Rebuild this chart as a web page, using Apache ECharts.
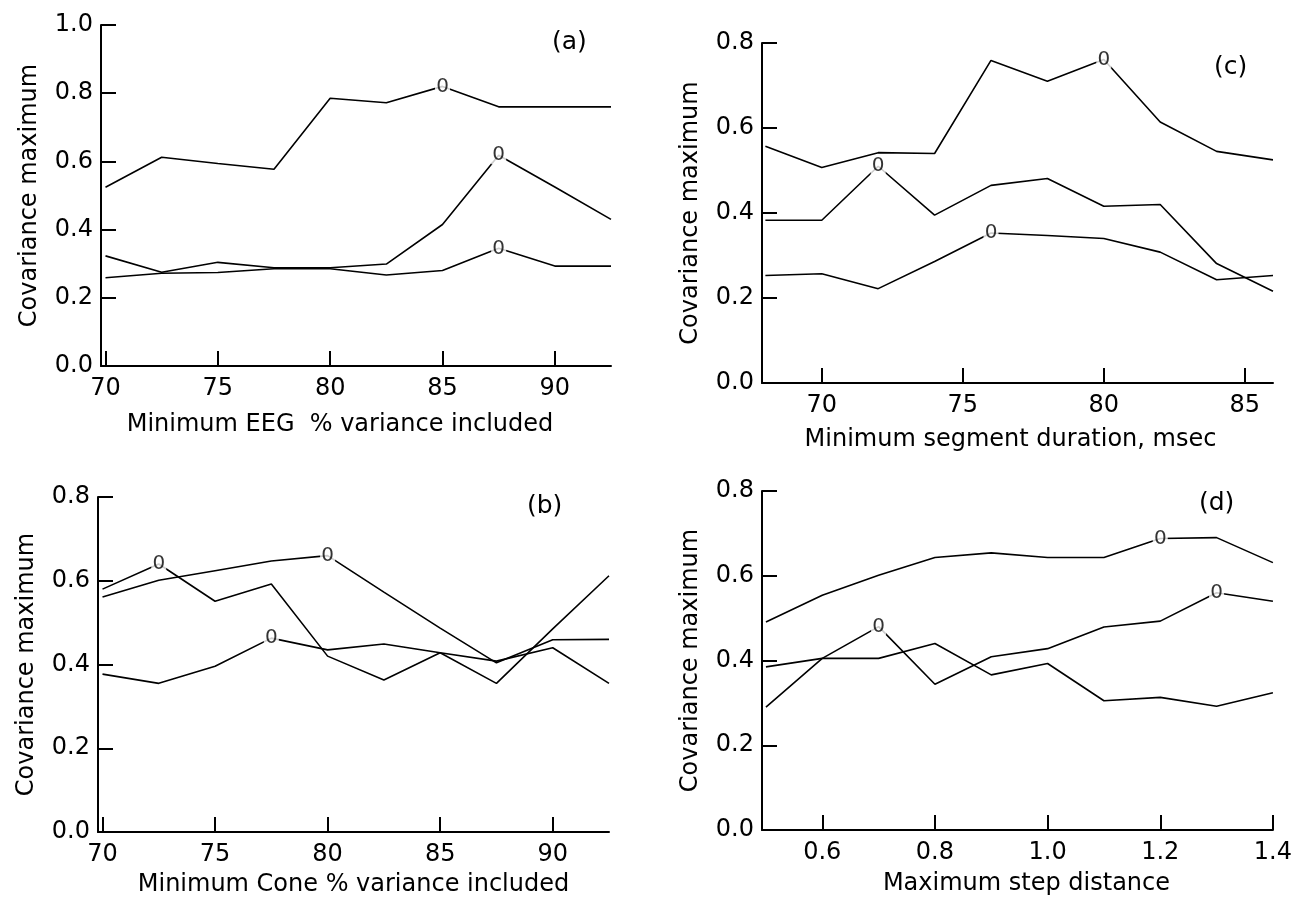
<!DOCTYPE html>
<html>
<head>
<meta charset="utf-8">
<script src="https://cdn.jsdelivr.net/npm/echarts@6/dist/echarts.min.js"></script>
<style>
  html, body { margin: 0; padding: 0; background: #fff; }
  #main { width: 1295px; height: 898px; }
</style>
</head>
<body>
<div id="main"></div>
<script>
// Panel (a): minimum EEG % variance included
const xA = [70, 72.5, 75, 77.5, 80, 82.5, 85, 87.5, 90, 92.5];
const a1 = [0.524, 0.612, 0.594, 0.577, 0.785, 0.772, 0.82, 0.76, 0.76, 0.76];
const a2 = [0.323, 0.275, 0.304, 0.288, 0.288, 0.299, 0.415, 0.618, 0.525, 0.43];
const a3 = [0.259, 0.272, 0.274, 0.285, 0.285, 0.267, 0.28, 0.345, 0.293, 0.293];

// Panel (b): minimum Cone % variance included
const xB = [70, 72.5, 75, 77.5, 80, 82.5, 85, 87.5, 90, 92.5];
const b1 = [0.58, 0.64, 0.551, 0.592, 0.42, 0.363, 0.428, 0.355, 0.485, 0.612];
const b2 = [0.561, 0.601, 0.624, 0.647, 0.66, 0.573, 0.487, 0.404, 0.459, 0.46];
const b3 = [0.377, 0.355, 0.396, 0.463, 0.435, 0.449, 0.428, 0.408, 0.44, 0.355];

// Panel (c): minimum segment duration, msec
const xC = [68, 70, 72, 74, 76, 78, 80, 82, 84, 86];
const c1 = [0.557, 0.507, 0.542, 0.54, 0.759, 0.71, 0.761, 0.614, 0.545, 0.525];
const c2 = [0.383, 0.383, 0.51, 0.395, 0.465, 0.481, 0.416, 0.42, 0.281, 0.216];
const c3 = [0.253, 0.257, 0.222, 0.286, 0.353, 0.347, 0.34, 0.308, 0.243, 0.253];

// Panel (d): maximum step distance
const xD = [0.5, 0.6, 0.7, 0.8, 0.9, 1.0, 1.1, 1.2, 1.3, 1.4];
const d1 = [0.491, 0.554, 0.601, 0.643, 0.654, 0.643, 0.643, 0.688, 0.69, 0.631];
const d2 = [0.29, 0.405, 0.48, 0.344, 0.409, 0.428, 0.479, 0.493, 0.56, 0.54];
const d3 = [0.385, 0.405, 0.405, 0.44, 0.366, 0.393, 0.305, 0.313, 0.292, 0.324];

// "0" markers: [series number within panel, point index]
const marksA = [[0, 6], [1, 7], [2, 7]];
const marksB = [[0, 1], [1, 4], [2, 3]];
const marksC = [[0, 6], [1, 2], [2, 4]];
const marksD = [[0, 7], [1, 2], [1, 8]];

// Tick labels
const ticksAB = [70, 75, 80, 85, 90];
const ticksC = [70, 75, 80, 85];
const ticksD = [0.6, 0.8, 1.0, 1.2, 1.4];

const panelNames = ['(a)', '(b)', '(c)', '(d)'];
const xNames = [
  'Minimum EEG  % variance included',
  'Minimum Cone % variance included',
  'Minimum segment duration, msec',
  'Maximum step distance'
];
const yName = 'Covariance maximum';

const font = 'DejaVu Sans';
const fs = 24;

const grids = [
  { left: 101, top: 25, width: 510, height: 341 },
  { left: 98, top: 497, width: 511, height: 340 },
  { left: 762, top: 43, width: 511, height: 340 },
  { left: 762, top: 491, width: 511, height: 339 }
];

const panels = [
  { x: xA, ys: [a1, a2, a3], marks: marksA, xMin: 69.8, xMax: 92.5, ticks: ticksAB, fmt: v => String(v), yMax: 1.0, nameGap: 47, namePad: [0, 32, 0, 0], label: [571, 42] },
  { x: xB, ys: [b1, b2, b3], marks: marksB, xMin: 69.8, xMax: 92.5, ticks: ticksAB, fmt: v => String(v), yMax: 0.8, nameGap: 41, namePad: [0, 0, 0, 0], label: [546, 506] },
  { x: xC, ys: [c1, c2, c3], marks: marksC, xMin: 67.88, xMax: 86, ticks: ticksC, fmt: v => String(v), yMax: 0.8, nameGap: 45, namePad: [0, 14, 0, 0], label: [1233, 67] },
  { x: xD, ys: [d1, d2, d3], marks: marksD, xMin: 0.493, xMax: 1.4, ticks: ticksD, fmt: v => v.toFixed(1), yMax: 0.8, nameGap: 42, namePad: [0, 0, 0, 18], label: [1218, 503] }
];

const axisLine = { show: true, onZero: false, lineStyle: { color: '#000', width: 2 } };
const tickStyle = { color: '#000', width: 2 };
const txt = { color: '#000', fontSize: fs, fontFamily: font };

const xAxes = [], yAxes = [], series = [], graphics = [];

panels.forEach((p, gi) => {
  xAxes.push({
    gridIndex: gi, type: 'value', min: p.xMin, max: p.xMax,
    axisLine: axisLine,
    axisTick: { show: true, inside: true, length: 15, customValues: p.ticks, lineStyle: tickStyle },
    axisLabel: Object.assign({ customValues: p.ticks, formatter: p.fmt, margin: 11 }, txt),
    splitLine: { show: false },
    name: xNames[gi], nameLocation: 'middle', nameGap: p.nameGap,
    nameTextStyle: Object.assign({ padding: p.namePad }, txt)
  });
  yAxes.push({
    gridIndex: gi, type: 'value', min: 0, max: p.yMax, interval: 0.2,
    axisLine: axisLine,
    axisTick: { show: true, inside: true, length: 15, lineStyle: tickStyle },
    axisLabel: Object.assign({ formatter: v => v.toFixed(1), margin: 8 }, txt),
    splitLine: { show: false },
    name: yName, nameLocation: 'middle', nameGap: 59,
    nameTextStyle: txt
  });
  p.ys.forEach(vals => {
    series.push({
      type: 'line', xAxisIndex: gi, yAxisIndex: gi,
      data: p.x.map((xv, i) => [xv, vals[i]]),
      symbol: 'none', silent: true, z: 3,
      lineStyle: { color: '#000', width: 1.6 }
    });
  });
  series.push({
    type: 'scatter', xAxisIndex: gi, yAxisIndex: gi, silent: true, z: 5,
    symbol: 'rect', symbolSize: [15, 18],
    itemStyle: { color: '#fff' },
    label: { show: true, position: 'inside', formatter: '0', color: '#000', fontSize: 20, fontFamily: font, textBorderWidth: 0 },
    data: p.marks.map(([s, i]) => [p.x[i], p.ys[s][i]])
  });
  graphics.push({
    type: 'text', left: p.label[0] - 19, top: p.label[1] - 12,
    style: { text: panelNames[gi], fill: '#000', font: '25px "' + font + '"' }
  });
});

const chart = echarts.init(document.getElementById('main'), null, { renderer: 'canvas' });
chart.setOption({
  animation: false,
  backgroundColor: '#fff',
  grid: grids,
  xAxis: xAxes,
  yAxis: yAxes,
  series: series,
  graphic: graphics
});
</script>
</body>
</html>
